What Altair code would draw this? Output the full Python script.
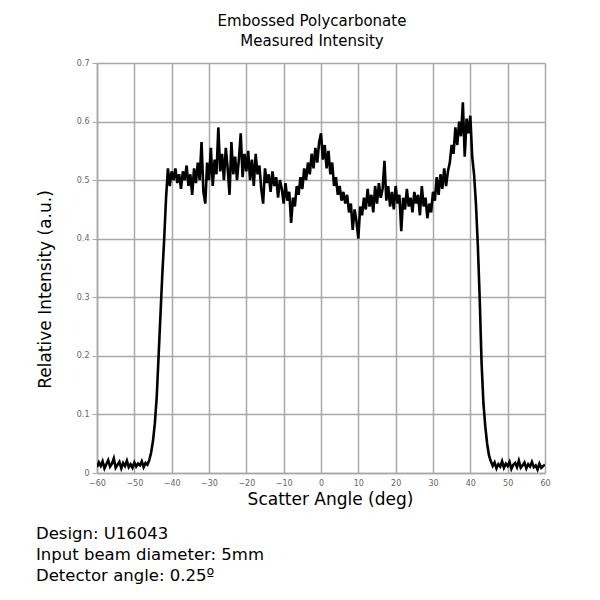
import altair as alt
import pandas as pd

# Intensity samples every 0.5 deg from -60 to 60
base_left = [0.010, 0.018, 0.012, 0.020, 0.008, 0.015, 0.022, 0.011, 0.016, 0.025,
             0.009, 0.014, 0.019, 0.008, 0.017, 0.012, 0.021, 0.010, 0.015, 0.009,
             0.018, 0.011, 0.016, 0.013, 0.020, 0.010, 0.017, 0.014]
rise = [0.022, 0.035, 0.055, 0.085, 0.13, 0.20, 0.27, 0.34, 0.40, 0.47, 0.52]
seg_a = [0.49, 0.515, 0.50, 0.52, 0.495, 0.51, 0.485, 0.515, 0.50, 0.525, 0.49,
         0.51, 0.475, 0.52, 0.495, 0.53, 0.50, 0.565, 0.48, 0.46, 0.53, 0.50]
seg_b = [0.555, 0.49, 0.535, 0.51, 0.59, 0.515, 0.545, 0.50, 0.555, 0.52,
         0.475, 0.565, 0.51, 0.54, 0.50, 0.535, 0.58, 0.505, 0.545, 0.515]
seg_c = [0.55, 0.50, 0.535, 0.49, 0.545, 0.51, 0.525, 0.485, 0.46, 0.52,
         0.495, 0.51, 0.48, 0.515, 0.49, 0.505, 0.47, 0.50, 0.485, 0.46]
seg_d = [0.495, 0.465, 0.48, 0.427, 0.47, 0.455, 0.49, 0.475, 0.505, 0.485,
         0.52, 0.50, 0.53, 0.51, 0.545, 0.52, 0.555, 0.53, 0.565, 0.58]
seg_e = [0.535, 0.56, 0.52, 0.55, 0.51, 0.53, 0.49, 0.505, 0.475, 0.49,
         0.465, 0.48, 0.46, 0.475, 0.445, 0.46, 0.415, 0.45, 0.43, 0.40]
seg_f = [0.455, 0.44, 0.47, 0.45, 0.485, 0.455, 0.475, 0.445, 0.49, 0.46,
         0.495, 0.47, 0.485, 0.533, 0.465, 0.49, 0.455, 0.48, 0.45, 0.49]
seg_g = [0.46, 0.475, 0.413, 0.47, 0.45, 0.485, 0.455, 0.47, 0.445, 0.48,
         0.46, 0.475, 0.44, 0.49, 0.455, 0.47, 0.435, 0.46, 0.445, 0.48]
seg_h = [0.465, 0.505, 0.475, 0.51, 0.485, 0.52, 0.49, 0.515, 0.53, 0.56,
         0.545, 0.59, 0.56, 0.60, 0.575, 0.633, 0.54, 0.605, 0.58, 0.61]
fall = [0.54, 0.51, 0.46, 0.39, 0.30, 0.19, 0.12, 0.08, 0.05, 0.03, 0.02, 0.012]
base_right = [0.018, 0.008, 0.015, 0.011, 0.020, 0.009, 0.016, 0.012, 0.019, 0.007,
              0.014, 0.017, 0.010, 0.021, 0.009, 0.013, 0.018, 0.008, 0.015, 0.011,
              0.019, 0.010, 0.013, 0.006, 0.016, 0.009, 0.012, 0.014]

intensity = (base_left + rise + seg_a + seg_b + seg_c + seg_d + seg_e + seg_f
             + seg_g + seg_h + fall + base_right)
angles = [-60 + 0.5 * i for i in range(len(intensity))]

x_ticks = [-60, -50, -40, -30, -20, -10, 0, 10, 20, 30, 40, 50, 60]
y_ticks = [0, 0.1, 0.2, 0.3, 0.4, 0.5, 0.6, 0.7]
notes = ["Design: U16043", "Input beam diameter: 5mm", "Detector angle: 0.25º"]

df = pd.DataFrame({"angle": angles, "intensity": intensity})

FONT = "DejaVu Sans"
GRID = "#a8a8a8"

line = alt.Chart(df).mark_line(color="black", strokeWidth=2.6, clip=True).encode(
    x=alt.X("angle:Q",
            scale=alt.Scale(domain=[-60, 60], nice=False, zero=False),
            axis=alt.Axis(values=x_ticks, title="Scatter Angle (deg)",
                          titleFontSize=17, titleFont=FONT, titleFontWeight="normal",
                          titleColor="black", titlePadding=4, titleX=233,
                          labelFontSize=8, labelColor="#666666", labelFont=FONT,
                          labelPadding=6, tickSize=0, labelFlush=False,
                          gridColor=GRID, gridWidth=1.5,
                          domainColor=GRID, domainWidth=1.5)),
    y=alt.Y("intensity:Q",
            scale=alt.Scale(domain=[0, 0.7], nice=False),
            axis=alt.Axis(values=y_ticks, title="Relative Intensity (a.u.)",
                          format=".1~f",
                          titleFontSize=17, titleFont=FONT, titleFontWeight="normal",
                          titleColor="black", titlePadding=22, titleY=226,
                          labelFontSize=8, labelColor="#666666", labelFont=FONT,
                          labelPadding=3, tickSize=5, tickColor=GRID,
                          gridColor=GRID, gridWidth=1.5,
                          domainColor=GRID, domainWidth=1.5)),
)

notes_df = pd.DataFrame({"txt": ["\n".join(notes)]})
note_text = alt.Chart(notes_df).mark_text(
    align="left", baseline="top", font=FONT, fontSize=16.5, color="black",
    lineBreak="\n", lineHeight=21, clip=False
).encode(
    text="txt:N",
    x=alt.value(-61),
    y=alt.value(463),
)

chart = alt.layer(line, note_text).properties(
    width=448,
    height=410,
    title=alt.TitleParams(
        text=["Embossed Polycarbonate", "Measured Intensity"],
        font=FONT, fontSize=15, fontWeight="normal", color="black",
        anchor="middle", offset=10, dx=-9, lineHeight=20,
    ),
    autosize=alt.AutoSizeParams(type="none"),
    padding={"left": 89, "top": 55, "right": 40, "bottom": 120},
).configure_view(stroke=None)

chart.save("out.html", embed_options={"renderer": "svg", "actions": False})
